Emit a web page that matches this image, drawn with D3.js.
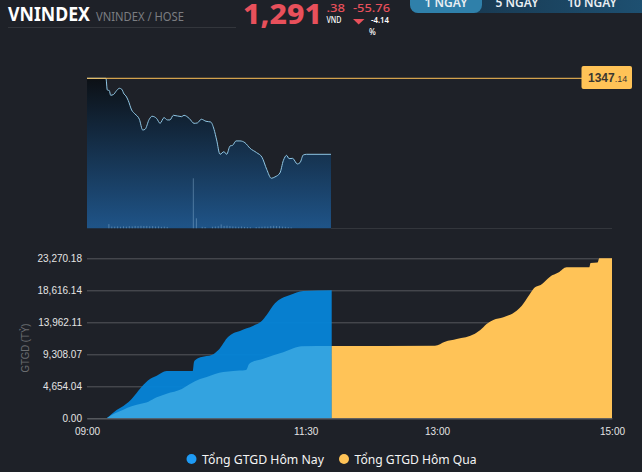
<!DOCTYPE html>
<html lang="vi">
<head>
    <meta charset="UTF-8">
    <title>VNINDEX</title>
    <style>
        html, body { margin: 0; padding: 0; background: #1e2128; overflow: hidden; }
        svg { display: block; }
        text { font-family: "Liberation Sans", sans-serif; }
        .hd { font-family: "Noto Sans", sans-serif; }
    </style>
</head>
<body>
    <script src="https://d3js.org/d3.v7.min.js"></script>
    <script>
        // minutes are counted from 09:00
        var priceMinutes = [0,13,13.9,15.3,16.2,18.1,20.3,22.2,23.8,25.4,26.7,28.3,30.6,32.9,35.9,38.2,39.8,42.7,44.6,47.8,50.1,52.8,55.1,56.9,59.2,64.9,66.5,70.2,73.4,75.7,78.4,81.6,84.8,87.1,88.9,91.2,93.9,95.8,98.1,99.9,102.2,104.9,108.3,111.8,116.3,120,123.2,126.4,128.9,132.3,134.6,136.9,138.5,141,144.2,146.1,148.3,150.6,167.3];
        var priceValues = [1347.14,1347.14,1338.6,1338.1,1334.7,1335.2,1338.1,1339.8,1339.1,1335.6,1334.2,1330.8,1323.9,1321,1317.1,1309.2,1309.7,1317.1,1319.3,1317.6,1314.1,1318.3,1316.6,1316.6,1320,1319,1320,1317.6,1314.1,1314.4,1317.1,1315.6,1315.1,1309.7,1301.9,1291.4,1293.3,1291.4,1297.5,1298,1301.2,1301.2,1299.9,1295.8,1292.6,1289.2,1280.4,1273.8,1274.8,1277.7,1286.7,1290.6,1288.2,1288.4,1284.3,1285.3,1290.9,1291.38,1291.38];
        var volumeMinutes = [15,17,19,21,23,25,27,29,31,33,35,37,39,41,43,45,47,49,51,53,55,72.9,75,79,81,86,88,90,92,94,96,98,100,102,104,106,108,110,112,116,118,120,122,124,126,128,130,132,134,136,138,140];
        var volumeValues = [420,180,170,190,160,200,170,210,190,240,220,250,230,240,200,220,180,190,150,170,140,5000,1000,150,130,160,180,210,390,240,260,220,190,170,150,180,140,120,110,130,150,160,180,170,220,250,230,210,170,150,120,90];
        var todayMinutes = [13.5,16.9,20.3,23.8,28.3,32.9,37.5,43.2,47.8,54.6,72.5,73.4,75.2,78.6,85.5,90.1,96.9,100.3,104.9,109.5,114.1,119.8,123.2,128.9,133.5,139.2,148.3,167.8];
        var todayValues = [0,630,1212,1648,2327,3394,4606,5721,6206,6884,6884,8242,8630,8921,9211,9939,11878,12363,12702,13090,13478,14157,15030,16727,17454,17939,18519,18616];
        var yesterdayMinutes = [13.5,19.2,24.9,30.6,36.3,42.1,47.8,54.6,65,70.6,77.5,82.1,87.8,93.5,100.3,109,111.3,120.9,127.8,134.6,141.5,147.2,167.8];
        var yesterdayValues = [0,727,1260,1745,2084,2424,3054,3588,4266,4994,5721,6012,6448,6739,6884,7030,7951,8679,9163,9599,10181,10472,10520];
        var laterMinutes = [167.8,238.6,245.5,253.5,266,269.5,274,278.6,285.5,294.6,298,303.7,307.2,311.1,317.5,323.2,328.9,344.4,345.3,350.1,351.3,360];
        var laterValues = [10520,10569,11151,11539,12314,12799,13720,14302,14690,15660,16339,18084,19054,19393,20605,21187,21963,21963,22593,22642,23270,23270];
        var yTicks = [0,4654.04,9308.07,13962.11,18616.14,23270.18];
        var xTicks = [0,150,240,360];
        var xTickLabels = ["09:00","11:30","13:00","15:00"];
        var tabLabels = ["1 NGAY","5 NGAY","10 NGAY"];
        var legendLabels = ["Tổng GTGD Hôm Nay","Tổng GTGD Hôm Qua"];
        var prevClose = 1347.14;

        var svg = d3.select("body").append("svg").attr("width", 642).attr("height", 472);

        var x = d3.scaleLinear().domain([0, 360]).range([87, 612]);
        var yPrice = d3.scaleLinear().domain([1237.1, prevClose]).range([228.3, 78.3]);
        var yVol = d3.scaleLinear().domain([0, 5000]).range([228.3, 178.3]);
        var yVal = d3.scaleLinear().domain([0, 23270.18]).range([418.3, 258.3]);

        var defs = svg.append("defs");
        var grad = defs.append("linearGradient").attr("id", "priceFill")
            .attr("x1", 0).attr("y1", 0).attr("x2", 0).attr("y2", 1);
        grad.append("stop").attr("offset", "0%").attr("stop-color", "#0c1015");
        grad.append("stop").attr("offset", "100%").attr("stop-color", "#1f5488");
        var tabGrad = defs.append("linearGradient").attr("id", "tabFill");
        tabGrad.append("stop").attr("offset", "0%").attr("stop-color", "#173247");
        tabGrad.append("stop").attr("offset", "100%").attr("stop-color", "#1e5274");

        // header
        function headText(px, py, size, weight, fill, len, str) {
            var t = svg.append("text").attr("class", "hd").attr("x", px).attr("y", py)
                .attr("font-size", size).attr("font-weight", weight).attr("fill", fill).text(str);
            if (len) t.attr("textLength", len).attr("lengthAdjust", "spacingAndGlyphs");
        }
        svg.append("line").attr("x1", 8).attr("x2", 236).attr("y1", 27.5).attr("y2", 27.5).attr("stroke", "#33363c");
        headText(8, 20.7, 19, 700, "#fff", 82, "VNINDEX");
        headText(96, 20.7, 12, 400, "#7b7d81", 88, "VNINDEX / HOSE");
        headText(243, 24, 28.5, 800, "#e8505b", 79, "1,291");
        headText(326.5, 12, 11.5, 500, "#e8505b", 18.5, ".38");
        headText(326.5, 22.7, 8, 500, "#fff", 15, "VND");
        headText(353, 12, 11.5, 500, "#e8505b", 37, "-55.76");
        svg.append("path").attr("d", d3.line()([[353, 19], [364.5, 19], [358.7, 24.5]]) + "Z").attr("fill", "#e8505b");
        headText(371, 22.7, 8, 600, "#fff", 18, "-4.14");
        headText(369, 34.7, 8, 500, "#fff", 0, "%");

        // tabs
        svg.append("rect").attr("x", 410).attr("y", -12).attr("width", 250).attr("height", 25).attr("rx", 8).attr("fill", "url(#tabFill)");
        svg.append("rect").attr("x", 410).attr("y", -12).attr("width", 72).attr("height", 25).attr("rx", 8).attr("fill", "#2f80aa");
        svg.selectAll(".tab").data(tabLabels).enter().append("text").attr("class", "hd tab")
            .attr("x", function(d, i) { return [446, 517, 592][i]; })
            .attr("y", 7).attr("text-anchor", "middle").attr("font-size", 12).attr("font-weight", 600).attr("fill", "#e8eef2")
            .text(function(d) { return d; });

        // price panel
        var pricePts = priceMinutes.map(function(m, i) { return [m, priceValues[i]]; });
        svg.append("line").attr("x1", x(167.3)).attr("x2", 612).attr("y1", 228.5).attr("y2", 228.5).attr("stroke", "#33363c");
        svg.append("path").datum(pricePts).attr("fill", "url(#priceFill)")
            .attr("d", d3.area().curve(d3.curveMonotoneX).x(function(d) { return x(d[0]); }).y0(yPrice(1237.1)).y1(function(d) { return yPrice(d[1]); }));
        svg.selectAll(".vol").data(volumeMinutes).enter().append("rect").attr("class", "vol")
            .attr("x", function(d) { return x(d) - 0.5; }).attr("width", 1)
            .attr("y", function(d, i) { return yVol(volumeValues[i]); })
            .attr("height", function(d, i) { return yVol(0) - yVol(volumeValues[i]); })
            .attr("fill", "#9cc3e2").attr("fill-opacity", 0.4);
        svg.append("path").datum(pricePts).attr("fill", "none").attr("stroke", "#8fc6e4").attr("stroke-width", 1)
            .attr("d", d3.line().curve(d3.curveMonotoneX).x(function(d) { return x(d[0]); }).y(function(d) { return yPrice(d[1]); }));
        svg.append("line").attr("x1", x(0)).attr("x2", 582).attr("y1", yPrice(prevClose)).attr("y2", yPrice(prevClose))
            .attr("stroke", "#ffc357").attr("stroke-width", 1);
        svg.append("rect").attr("x", 581.5).attr("y", 66).attr("width", 50.5).attr("height", 23).attr("rx", 2).attr("fill", "#ffc357");
        var closeLabel = svg.append("text").attr("x", 588).attr("y", 82).attr("fill", "#3a3730").attr("font-size", 12).attr("font-weight", 700);
        closeLabel.append("tspan").text("1347");
        closeLabel.append("tspan").attr("font-size", 9).attr("font-weight", 400).text(".14");

        // value panel
        var yAxis = d3.axisLeft(yVal).tickValues(yTicks).tickSize(0).tickPadding(5)
            .tickFormat(d3.format(",.2f"));
        var yG = svg.append("g").attr("transform", "translate(87,0)").call(yAxis);
        yG.select(".domain").remove();
        yG.selectAll("text").attr("font-size", 10).attr("fill", "#e4e4e4");
        yG.selectAll(".tick").append("line").attr("x2", 525).attr("stroke", "#54575c");

        var area = d3.area().curve(d3.curveMonotoneX).x(function(d) { return x(d[0]); }).y0(yVal(0)).y1(function(d) { return yVal(d[1]); });
        svg.append("path").datum(todayMinutes.map(function(m, i) { return [m, todayValues[i]]; }))
            .attr("fill", "#0683d6").attr("fill-opacity", 0.96).attr("d", area);
        svg.append("path").datum(yesterdayMinutes.map(function(m, i) { return [m, yesterdayValues[i]]; }))
            .attr("fill", "#33a3e0").attr("d", area);
        svg.append("path").datum(laterMinutes.map(function(m, i) { return [m, laterValues[i]]; }))
            .attr("fill", "#ffc357").attr("d", area);

        var xAxis = d3.axisBottom(x).tickValues(xTicks).tickSize(0).tickPadding(10)
            .tickFormat(function(d, i) { return xTickLabels[i]; });
        var xG = svg.append("g").attr("transform", "translate(0,418.3)").call(xAxis);
        xG.select(".domain").attr("stroke", "#5d6065");
        xG.selectAll("text").attr("font-size", 10).attr("fill", "#e4e4e4");

        svg.append("text").attr("transform", "translate(29,348) rotate(-90)").attr("text-anchor", "middle")
            .attr("font-size", 10).attr("fill", "#6a6c70")
            .attr("textLength", 49).attr("lengthAdjust", "spacingAndGlyphs").text("GTGD (TỶ)");

        // legend
        var legendX = [191.5, 344];
        var legendColors = ["#1e9bf5", "#ffc357"];
        svg.selectAll(".lg-dot").data(legendLabels).enter().append("circle").attr("class", "lg-dot")
            .attr("cx", function(d, i) { return legendX[i]; }).attr("cy", 459).attr("r", 5)
            .attr("fill", function(d, i) { return legendColors[i]; });
        svg.selectAll(".lg-text").data(legendLabels).enter().append("text").attr("class", "hd lg-text")
            .attr("x", function(d, i) { return legendX[i] + 10.5; }).attr("y", 464)
            .attr("font-size", 13).attr("fill", "#f4f4f4")
            .attr("textLength", 122).attr("lengthAdjust", "spacingAndGlyphs")
            .text(function(d) { return d; });
    </script>
</body>
</html>
